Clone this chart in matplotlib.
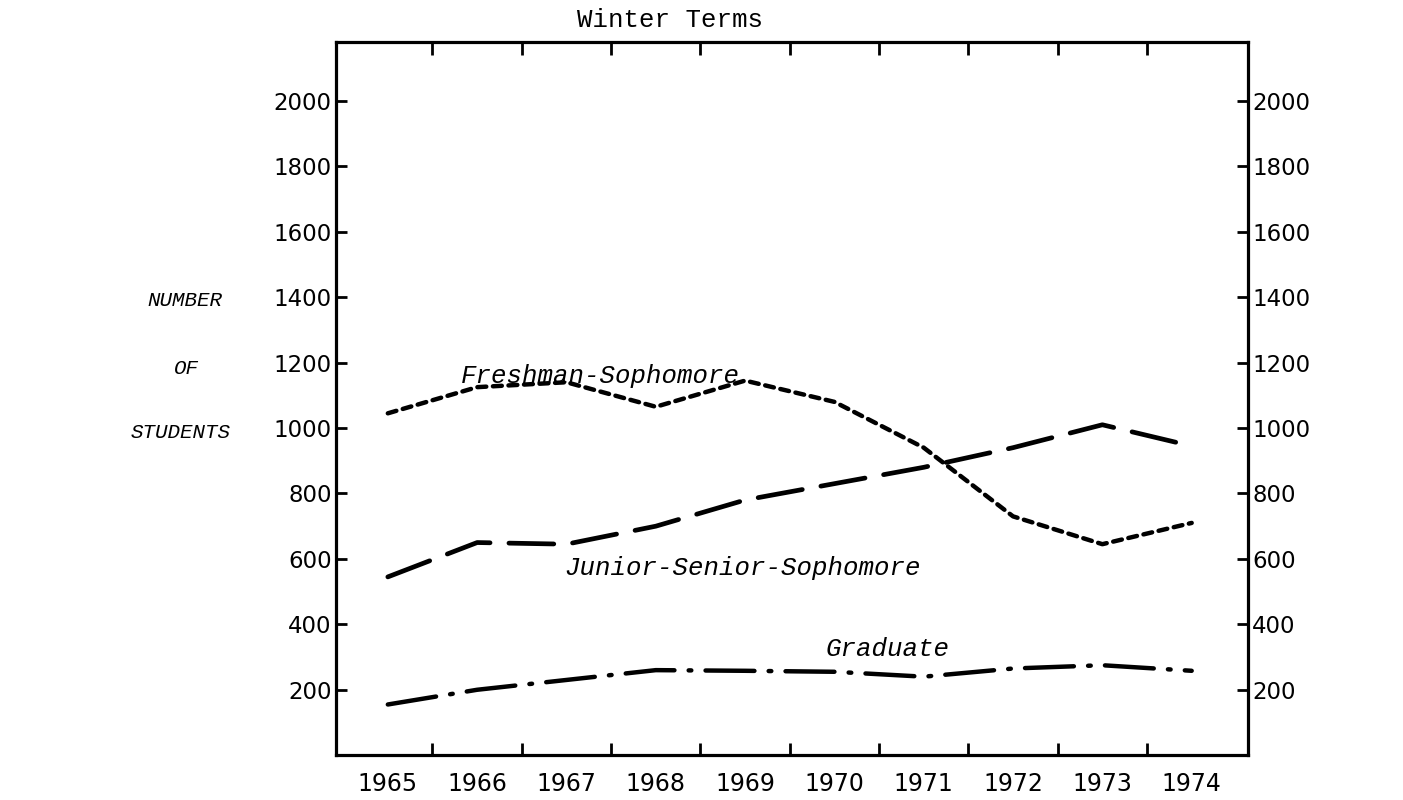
import numpy as np
import matplotlib
matplotlib.use("Agg")
import matplotlib.pyplot as plt
from matplotlib.ticker import FixedLocator, NullFormatter

# Winter term enrolment
years = [1965, 1966, 1967, 1968, 1969, 1970, 1971, 1972, 1973, 1974]
freshman_soph = [1045, 1125, 1140, 1065, 1145, 1080, 940, 730, 645, 710]
junior_senior = [545, 650, 645, 700, 780, 830, 880, 940, 1010, 945]
graduate = [155, 200, 230, 260, 258, 255, 240, 265, 275, 258]

yticks = [200, 400, 600, 800, 1000, 1200, 1400, 1600, 1800, 2000]
mono = "Liberation Mono"

fig = plt.figure(figsize=(14.03, 8), dpi=100)
ax = fig.add_axes([0.2395, 0.056, 0.65, 0.8915])

# Freshman-Sophomore: short dashes
ax.plot(years, freshman_soph, color="black", lw=3.2, dashes=(2.0, 1.5),
        dash_capstyle="round")
# Junior-Senior-Sophomore: long dashes
ax.plot(years, junior_senior, color="black", lw=3.4, dashes=(9.5, 4.0),
        dash_capstyle="round")
# Graduate: dash-dot
ax.plot(years, graduate, color="black", lw=3.2, dashes=(11, 3.2, 0.6, 3.2),
        dash_capstyle="round")

ax.set_xlim(1964.42, 1974.63)
ax.set_ylim(0, 2180)

ax.set_xticks(years)
ax.set_xticklabels([str(y) for y in years])
ax.xaxis.set_minor_locator(FixedLocator([y + 0.5 for y in years[:-1]]))
ax.xaxis.set_minor_formatter(NullFormatter())
ax.tick_params(axis="x", which="major", length=0, pad=12, labelsize=17)
ax.tick_params(axis="x", which="minor", direction="in", length=9, width=2,
               top=True, bottom=True)

ax.set_yticks(yticks)
ax.set_yticklabels([str(v) for v in yticks])
ax.tick_params(axis="y", which="major", direction="in", length=8, width=2,
               left=True, right=True, labelleft=True, labelright=True,
               labelsize=16.5, pad=3)

for s in ax.spines.values():
    s.set_linewidth(2.3)

# curve labels
ax.text(1967.38, 1160, "Freshman-Sophomore", fontfamily=mono, style="italic",
        fontsize=18.5, ha="center", va="center")
ax.text(1968.97, 572, "Junior-Senior-Sophomore", fontfamily=mono, style="italic",
        fontsize=18.5, ha="center", va="center")
ax.text(1970.59, 325, "Graduate", fontfamily=mono, style="italic",
        fontsize=18.5, ha="center", va="center")

# title and y label
fig.text(670 / 1403, 1 - 20 / 800, "Winter Terms", fontfamily=mono,
         fontsize=18.5, ha="center", va="center")
fig.text(185 / 1403, 1 - 300 / 800, "NUMBER", fontfamily=mono, style="italic",
         fontsize=15, ha="center", va="center")
fig.text(186 / 1403, 1 - 368 / 800, "OF", fontfamily=mono, style="italic",
         fontsize=15, ha="center", va="center")
fig.text(181 / 1403, 1 - 432 / 800, "STUDENTS", fontfamily=mono, style="italic",
         fontsize=15, ha="center", va="center")

fig.savefig("out.png", dpi=100)
